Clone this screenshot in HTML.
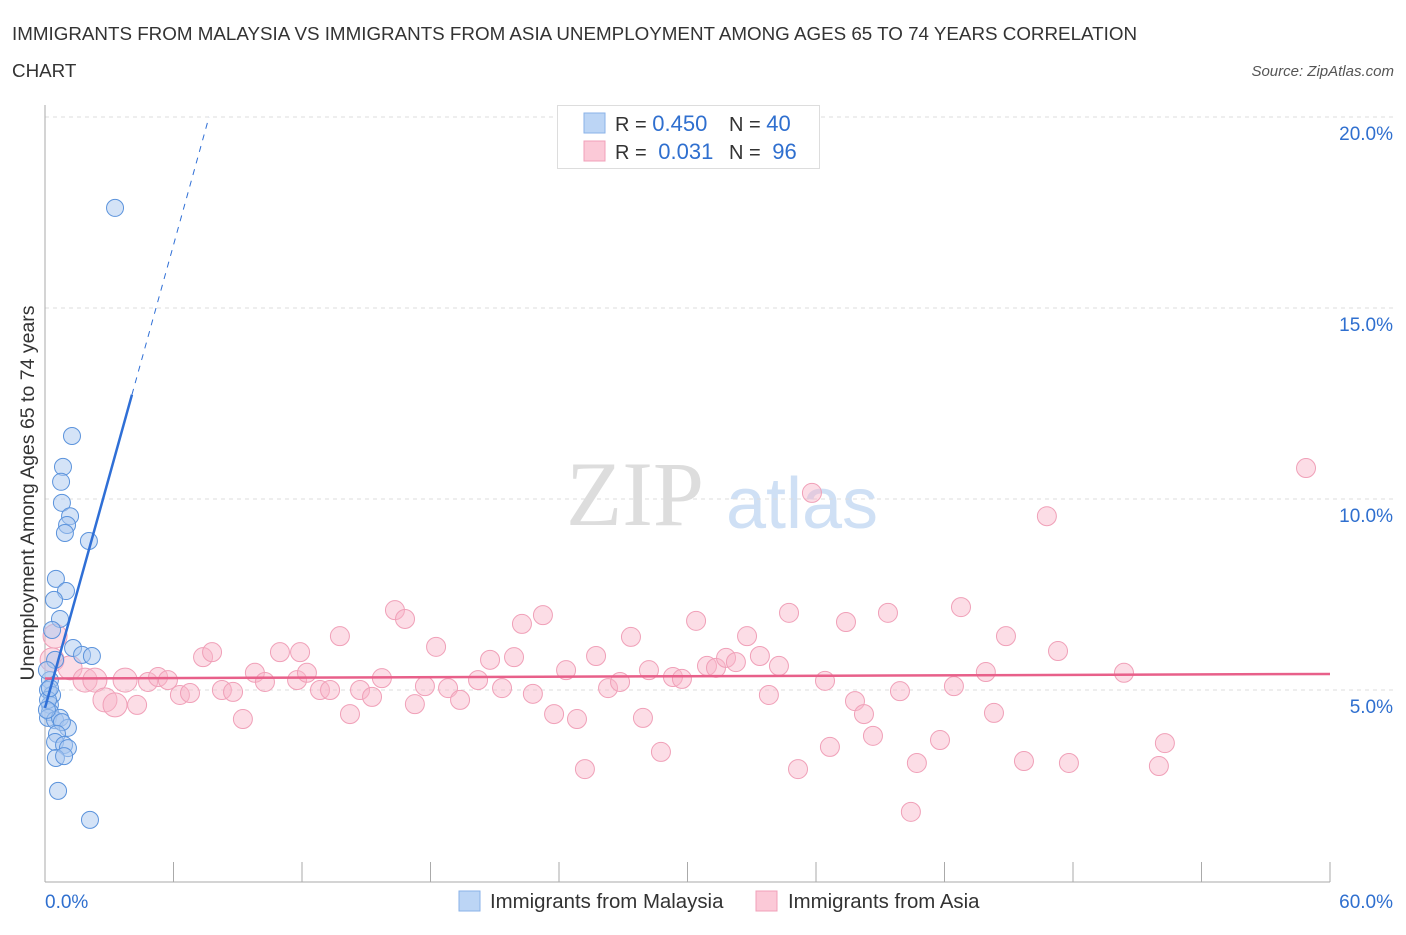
<!DOCTYPE html>
<html><head><meta charset="utf-8"><style>
body{margin:0;background:#fff;font-family:"Liberation Sans",sans-serif;}
svg text{font-family:"Liberation Sans",sans-serif;}
</style></head><body>
<svg id="chart" width="1406" height="930" xmlns="http://www.w3.org/2000/svg">
<text x="12" y="40" font-size="18.8" fill="#333">IMMIGRANTS FROM MALAYSIA VS IMMIGRANTS FROM ASIA UNEMPLOYMENT AMONG AGES 65 TO 74 YEARS CORRELATION</text>
<text x="12" y="77" font-size="18.8" fill="#333">CHART</text>
<text x="1394" y="76" font-size="15" fill="#555" font-style="italic" text-anchor="end">Source: ZipAtlas.com</text>
<g>
<text x="635" y="525" font-size="92" fill="#ddd" text-anchor="middle" style="font-family:'Liberation Serif',serif">ZIP</text>
<text x="802" y="528" font-size="72" fill="#cfe0f5" text-anchor="middle">atlas</text>
</g>
<g id="grid"></g>
<g id="axes"></g>
<g id="marks"></g>
<text transform="translate(34,493) rotate(-90)" font-size="19.5" fill="#333" text-anchor="middle">Unemployment Among Ages 65 to 74 years</text>
<g>
<rect x="557.5" y="105.5" width="262" height="63" fill="#fff" stroke="#ddd"/>
<rect x="584" y="113" width="21" height="20" fill="#bcd5f5" stroke="#8ab2e8"/>
<rect x="584" y="141" width="21" height="20" fill="#fbc9d7" stroke="#f0a0b8"/>
<text x="615" y="131" font-size="20" fill="#333">R = <tspan fill="#2f6fcf" font-size="22">0.450</tspan></text>
<text x="729" y="131" font-size="20" fill="#333">N = <tspan fill="#2f6fcf" font-size="22">40</tspan></text>
<text x="615" y="159" font-size="20" fill="#333">R = <tspan fill="#2f6fcf" dx="6" font-size="22">0.031</tspan></text>
<text x="729" y="159" font-size="20" fill="#333">N = <tspan fill="#2f6fcf" dx="6" font-size="22">96</tspan></text>
</g>
<g>
<rect x="459" y="891" width="21" height="20" fill="#bcd5f5" stroke="#8ab2e8"/>
<text x="490" y="908" font-size="20.4" fill="#333">Immigrants from Malaysia</text>
<rect x="756" y="891" width="21" height="20" fill="#fbc9d7" stroke="#f0a0b8"/>
<text x="788" y="908" font-size="20.4" fill="#333">Immigrants from Asia</text>
</g>
</svg>
<script>
const yTicks=[5,10,15,20];
const yTickLabels=["5.0%","10.0%","15.0%","20.0%"];
const xTicks=[0,6,12,18,24,30,36,42,48,54,60];
const blueX=[3.27,1.26,0.84,0.75,0.79,1.17,1.03,0.93,2.05,0.51,0.98,0.42,0.70,0.33,1.31,1.73,2.19,0.47,0.23,0.14,0.33,0.23,0.23,0.14,0.47,0.70,1.07,0.79,0.56,0.47,0.89,1.07,0.51,0.89,0.61,2.10,0.09,0.14,0.23,0.09];
const blueY=[17.62,11.65,10.84,10.45,9.90,9.55,9.32,9.11,8.90,7.91,7.59,7.36,6.86,6.57,6.10,5.92,5.89,5.79,5.26,5.00,4.87,4.61,4.42,4.27,4.21,4.27,4.01,4.16,3.85,3.64,3.56,3.48,3.22,3.27,2.36,1.60,5.52,4.74,5.05,4.48];
const pinkX=[0.47,0.33,1.17,1.87,2.33,2.80,3.27,3.74,4.30,4.81,5.28,5.74,6.30,6.77,7.38,7.80,8.26,8.78,9.24,9.80,10.27,10.97,11.77,11.91,12.23,12.84,13.31,13.77,14.24,14.71,15.27,15.73,16.34,16.81,17.27,17.74,18.26,18.82,19.38,20.22,20.78,21.34,21.90,22.27,22.78,23.25,23.77,24.33,24.84,25.21,25.73,26.29,26.85,27.36,27.92,28.20,28.76,29.32,29.74,30.40,30.91,31.33,31.80,32.26,32.78,33.38,33.80,34.27,34.74,35.16,35.81,36.42,36.65,37.40,37.82,38.24,38.66,39.36,39.92,40.43,40.71,41.79,42.44,42.77,43.93,44.31,44.87,45.71,46.78,47.30,47.81,50.38,52.01,52.29,58.88];
const pinkY=[6.41,5.79,5.58,5.26,5.26,4.74,4.61,5.26,4.61,5.21,5.34,5.26,4.87,4.92,5.86,5.99,5.00,4.95,4.24,5.45,5.21,5.99,5.26,5.99,5.45,5.00,5.00,6.41,4.37,5.00,4.82,5.31,7.09,6.86,4.63,5.10,6.13,5.05,4.74,5.26,5.79,5.05,5.86,6.73,4.90,6.96,4.37,5.52,4.24,2.93,5.89,5.05,5.21,6.39,4.27,5.52,3.38,5.34,5.29,6.81,5.63,5.58,5.84,5.73,6.41,5.89,4.87,5.63,7.02,2.93,10.16,5.24,3.51,6.78,4.71,4.37,3.80,7.02,4.97,1.81,3.09,3.69,5.10,7.17,5.47,4.40,6.41,3.14,9.55,6.02,3.09,5.45,3.01,3.61,10.81];
const blueTrend=[4.53,2.02];
const pinkTrend=[5.30,0.002];
const X0=45,X1=1330,Y0=881,Y20=117;
const sx=v=>X0+(v/60)*(X1-X0);
const sy=v=>Y0-(v/20)*(Y0-Y20);
const NS="http://www.w3.org/2000/svg";
function mk(tag,attrs,parent){const e=document.createElementNS(NS,tag);for(const k in attrs)e.setAttribute(k,attrs[k]);parent.appendChild(e);return e;}
const grid=document.getElementById('grid'),axes=document.getElementById('axes'),marks=document.getElementById('marks');
yTicks.forEach((t,i)=>{
 const l=mk('line',{x1:X0,x2:1395,y1:sy(t),y2:sy(t),stroke:'#ddd','stroke-dasharray':'4,4'},grid);
 
 
 const tx=mk('text',{x:1393,y:sy(t)+23,'font-size':19,fill:'#2f6fcf','text-anchor':'end'},axes);
 tx.textContent=yTickLabels[i];
 
 
});
const ax=mk('line',{x1:X0,x2:X0,y1:105,y2:Y0+1,stroke:'#aaa'},axes);


const bx=mk('line',{x1:X0,x2:X1,y1:Y0+1,y2:Y0+1,stroke:'#aaa'},axes);


xTicks.forEach(t=>{
 const l=mk('line',{x1:sx(t),x2:sx(t),y1:862,y2:Y0+1,stroke:'#aaa'},axes);
 
 
});
const xl0=mk('text',{x:45,y:908,'font-size':19,fill:'#2f6fcf'},axes);xl0.textContent='0.0%';


const xl1=mk('text',{x:1393,y:908,'font-size':19,fill:'#2f6fcf','text-anchor':'end'},axes);xl1.textContent='60.0%';


pinkX.forEach((x,i)=>{
 const c=mk('circle',{cx:sx(x),cy:sy(pinkY[i]),r:x<4?12:9.5,fill:'rgba(248,180,200,0.45)',stroke:'#f0a0b8','stroke-width':1},marks);
 
 
});
blueX.forEach((x,i)=>{
 const c=mk('circle',{cx:sx(x),cy:sy(blueY[i]),r:8.5,fill:'rgba(170,200,240,0.5)',stroke:'#5b93dc','stroke-width':1},marks);
 
 
});
const pl=mk('line',{x1:sx(0),y1:sy(pinkTrend[0]),x2:sx(60),y2:sy(pinkTrend[0]+pinkTrend[1]*60),stroke:'#e8608a','stroke-width':2.5},marks);


const xs=4.06, xe=(20-blueTrend[0])/blueTrend[1];
const bl=mk('line',{x1:sx(0),y1:sy(blueTrend[0]),x2:sx(xs),y2:sy(blueTrend[0]+blueTrend[1]*xs),stroke:'#2f6fd6','stroke-width':2.5},marks);


const bd=mk('line',{x1:sx(xs),y1:sy(blueTrend[0]+blueTrend[1]*xs),x2:sx(xe),y2:sy(20),stroke:'#2f6fd6','stroke-width':1,'stroke-dasharray':'6,6'},marks);


</script>
</body></html>
